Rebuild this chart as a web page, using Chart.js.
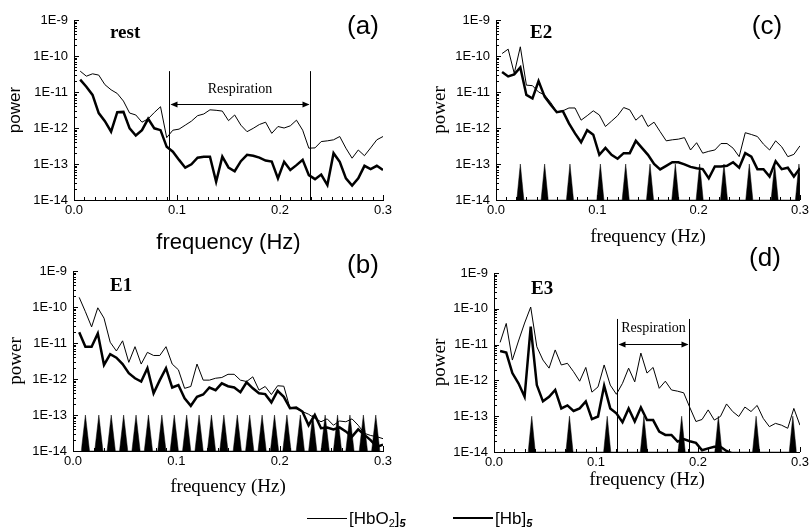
<!DOCTYPE html>
<html>
<head>
<meta charset="utf-8">
<script src="https://cdn.jsdelivr.net/npm/chart.js@4.4.1/dist/chart.umd.min.js"></script>
<style>
  html, body { margin: 0; padding: 0; background: #fff; }
  #fig { position: relative; width: 812px; height: 532px; overflow: hidden; }
  #fig canvas { position: absolute; }
  .lbl { position: absolute; color: #000; white-space: nowrap; line-height: 1; }
  .panel { font-family: 'Liberation Sans', Arial, sans-serif; font-size: 26px; transform: translate(-50%, -50%); }
  .cond { font-family: 'Liberation Serif', 'Times New Roman', serif; font-weight: bold; font-size: 19px; transform: translateY(-50%); }
  .legend { font-family: 'Liberation Sans', Arial, sans-serif; font-size: 17px; transform: translateY(-50%); }
  .legend sub { font-size: 0.65em; vertical-align: -0.35em; line-height: 0; }
  .legend sub.n { font-style: italic; font-weight: bold; }
  .key { position: absolute; height: 0; border-top: 1px solid #000; }
</style>
</head>
<body>
<div id="fig">
  <canvas id="pa"></canvas>
  <canvas id="pc"></canvas>
  <canvas id="pb"></canvas>
  <canvas id="pd"></canvas>

  <div class="lbl panel" style="left:363px;top:25px">(a)</div>
  <div class="lbl panel" style="left:767px;top:25px">(c)</div>
  <div class="lbl panel" style="left:363px;top:264px">(b)</div>
  <div class="lbl panel" style="left:765px;top:257px">(d)</div>

  <div class="lbl cond" style="left:110px;top:31px">rest</div>
  <div class="lbl cond" style="left:530px;top:31px">E2</div>
  <div class="lbl cond" style="left:110px;top:284px">E1</div>
  <div class="lbl cond" style="left:531px;top:287px">E3</div>

  <div class="key" style="left:307px;top:518px;width:40px;border-top-width:1px"></div>
  <div class="lbl legend" style="left:349px;top:518px">[HbO<sub>2</sub>]<sub class="n">5</sub></div>
  <div class="key" style="left:453px;top:517px;width:40px;border-top-width:2.5px"></div>
  <div class="lbl legend" style="left:495px;top:518px">[Hb]<sub class="n">5</sub></div>
</div>

<script>
// frequency grid (Hz) shared by all spectra
const freq = [0.006, 0.012, 0.018, 0.024, 0.030, 0.036, 0.042, 0.048, 0.054, 0.060,
  0.066, 0.072, 0.078, 0.084, 0.090, 0.096, 0.102, 0.108, 0.114, 0.120,
  0.126, 0.132, 0.138, 0.144, 0.150, 0.156, 0.162, 0.168, 0.174, 0.180,
  0.186, 0.192, 0.198, 0.204, 0.210, 0.216, 0.222, 0.228, 0.234, 0.240,
  0.246, 0.252, 0.258, 0.264, 0.270, 0.276, 0.282, 0.288, 0.294, 0.300];

const yTicks = [1e-14, 1e-13, 1e-12, 1e-11, 1e-10, 1e-9];
const xTicks = [0, 0.1, 0.2, 0.3];

// stimulus peaks drawn as black spikes up to 1E-13
const spikeTop = 1e-13;
const spikesE1 = [0.012, 0.025, 0.037, 0.049, 0.061, 0.073, 0.086, 0.098, 0.110, 0.122, 0.134, 0.146,
  0.159, 0.171, 0.183, 0.195, 0.207, 0.220, 0.232, 0.244, 0.256, 0.268, 0.281, 0.293];
const spikesE2 = [0.024, 0.048, 0.073, 0.103, 0.128, 0.152, 0.177, 0.201, 0.225, 0.250, 0.275, 0.299];
const spikesE3 = [0.037, 0.074, 0.111, 0.147, 0.184, 0.220, 0.257, 0.293];

// (a) rest
const hbo2Rest = [3.8e-11, 2.75e-11, 3.2e-11, 2.95e-11, 1.6e-11, 1.15e-11, 9.1e-12, 5.6e-12, 2.6e-12, 2.3e-12,
  1.45e-12, 1.8e-12, 2.7e-12, 3.9e-12, 5.4e-13, 8.7e-13, 9.3e-13, 1.2e-12, 1.55e-12, 2.2e-12,
  2.45e-12, 3.2e-12, 3.1e-12, 2.95e-12, 1.6e-12, 2.3e-12, 1.2e-12, 7.9e-13, 9.8e-13, 1.25e-12,
  1.45e-12, 7.1e-13, 1.1e-12, 1.0e-12, 1.15e-12, 1.65e-12, 8.7e-13, 2.75e-13, 2.8e-13, 4.2e-13,
  4.4e-13, 4.7e-13, 5.8e-13, 2.75e-13, 1.45e-13, 2.45e-13, 1.7e-13, 2.8e-13, 4.7e-13, 5.8e-13];
const hbRest = [2.2e-11, 1.4e-11, 8.3e-12, 2.6e-12, 1.55e-12, 7.9e-13, 2.75e-12, 2.8e-12, 9.8e-13, 6.2e-13,
  8.7e-13, 1.8e-12, 9.8e-13, 8.7e-13, 3.0e-13, 2.2e-13, 1.3e-13, 7.9e-14, 9.8e-14, 1.5e-13,
  1.6e-13, 1.6e-13, 3.2e-14, 1.6e-13, 8.0e-14, 6.3e-14, 1.2e-13, 1.8e-13, 1.7e-13, 1.5e-13,
  1.25e-13, 1.17e-13, 4.0e-14, 1.15e-13, 6.8e-14, 9.3e-14, 1.3e-13, 4.9e-14, 3.8e-14, 5.1e-14,
  2.6e-14, 2.0e-13, 1.15e-13, 4.0e-14, 2.5e-14, 4.0e-14, 8.9e-14, 7.2e-14, 8.9e-14, 6.8e-14];

// (b) E1
const hbo2E1 = [1.85e-10, 7.4e-11, 2.8e-11, 9.5e-11, 4.9e-11, 1.05e-11, 6.0e-12, 1.15e-11, 2.9e-12, 7.9e-12,
  2.6e-12, 5.5e-12, 4.5e-12, 4.5e-12, 7.9e-12, 2.6e-12, 1.8e-12, 5.5e-13, 6.2e-13, 2.6e-12,
  9.3e-13, 9.3e-13, 1.05e-12, 1.1e-12, 1.35e-12, 1.35e-12, 9.3e-13, 8.5e-13, 1.15e-12, 4.9e-13,
  6.2e-13, 3.7e-13, 6.5e-13, 6.3e-13, 1.55e-13, 1.5e-13, 1.25e-13, 1.05e-13, 8.1e-14, 6.5e-14,
  7.8e-14, 5.2e-14, 6.8e-14, 6.5e-14, 7.8e-14, 5.2e-14, 3.1e-14, 2.7e-14, 2.5e-14, 2.2e-14];
const hbE1 = [2.0e-11, 7.9e-12, 7.9e-12, 1.85e-11, 2.45e-12, 4.9e-12, 3.9e-12, 2.6e-12, 1.45e-12, 1.05e-12,
  8.5e-13, 2.0e-12, 4.0e-13, 9.3e-13, 2.0e-12, 5.8e-13, 6.8e-13, 2.9e-13, 1.8e-13, 3.2e-13,
  3.7e-13, 5.8e-13, 4.9e-13, 7.6e-13, 6.3e-13, 5.8e-13, 4.3e-13, 8.1e-13, 5.5e-13, 4.0e-13,
  3.8e-13, 2.25e-13, 4.7e-13, 3.2e-13, 1.55e-13, 1.6e-13, 1.25e-13, 5.2e-14, 1.0e-13, 4.3e-14,
  4.5e-14, 4.0e-14, 4.5e-14, 3.5e-14, 2.5e-14, 4.0e-14, 2.8e-14, 2.0e-14, 1.3e-14, 1.5e-14];

// (c) E2
const hbo2E2 = [1.17e-10, 1.55e-10, 3.3e-11, 1.8e-10, 1.55e-11, 1.5e-11, 1.0e-11, 8.3e-12, 5.1e-12, 2.8e-12,
  3.0e-12, 3.6e-12, 3.6e-12, 1.65e-12, 2.2e-12, 3.0e-12, 2.3e-12, 1.1e-12, 1.55e-12, 2.2e-12,
  3.7e-12, 3.2e-12, 1.65e-12, 2.3e-12, 1.1e-12, 1.45e-12, 7.9e-13, 4.4e-13, 4.7e-13, 4.9e-13,
  5.4e-13, 2.45e-13, 3.9e-13, 2.0e-13, 2.25e-13, 2.45e-13, 3.7e-13, 3.7e-13, 2.75e-13, 1.6e-13,
  7.4e-13, 6.6e-13, 5.8e-13, 3.55e-13, 2.45e-13, 4.4e-13, 3.0e-13, 1.6e-13, 1.85e-13, 3.2e-13];
const hbE2 = [3.6e-11, 2.7e-11, 3.1e-11, 4.8e-11, 8.3e-12, 6.6e-12, 2.0e-11, 7.4e-12, 4.4e-12, 2.75e-12,
  2.95e-12, 1.35e-12, 7.1e-13, 4.0e-13, 8.7e-13, 6.5e-13, 1.8e-13, 2.8e-13, 1.8e-13, 1.4e-13,
  2.0e-13, 2.0e-13, 4.4e-13, 2.8e-13, 1.8e-13, 1.0e-13, 7.1e-14, 8.9e-14, 1.12e-13, 1.12e-13,
  9.8e-14, 8.3e-14, 7.6e-14, 7.2e-14, 4.0e-14, 8.5e-14, 8.5e-14, 8.9e-14, 1.12e-13, 7.9e-14,
  2.0e-13, 1.6e-13, 7.2e-14, 7.2e-14, 4.5e-14, 1.2e-13, 7.2e-14, 7.9e-14, 4.5e-14, 7.6e-14];

// (d) E3
const hbo2E3 = [1.15e-11, 3.9e-11, 3.7e-12, 1.26e-11, 4.0e-11, 1.12e-10, 8.7e-12, 3.7e-12, 2.2e-12, 7.1e-12,
  2.7e-12, 3.0e-12, 1.75e-12, 9.5e-13, 2.3e-12, 4.7e-13, 6.6e-13, 2.7e-12, 7.4e-13, 4.1e-13,
  8.3e-13, 2.2e-12, 9.1e-13, 5.8e-12, 1.6e-12, 2.3e-12, 6.0e-13, 9.5e-13, 5.4e-13, 5.0e-13,
  4.5e-13, 1.75e-13, 7.1e-14, 8.1e-14, 1.5e-13, 7.8e-14, 9.8e-14, 2.2e-13, 1.35e-13, 9.8e-14,
  1.8e-13, 1.35e-13, 2.0e-13, 8.7e-14, 5.1e-14, 6.3e-14, 5.6e-14, 4.6e-14, 1.65e-13, 5.6e-14];
const hbE3 = [6.6e-12, 6.0e-12, 1.6e-12, 8.3e-13, 3.5e-13, 3.2e-11, 7.4e-13, 2.6e-13, 3.5e-13, 5.4e-13,
  1.65e-13, 2.0e-13, 1.4e-13, 1.65e-13, 2.6e-13, 8.3e-14, 9.8e-14, 7.1e-13, 1.65e-13, 1.2e-13,
  6.8e-14, 1.65e-13, 7.1e-14, 1.75e-13, 7.8e-14, 7.8e-14, 3.7e-14, 3.0e-14, 3.0e-14, 1.95e-14,
  2.3e-14, 2.0e-14, 1.8e-14, 1.12e-14, 1.26e-14, 1.4e-14, 1.4e-14, 1.07e-14, 9e-15, null,
  null, null, null, null, null, null, null, null, null, null];

const SANS = "'Liberation Sans', Arial, sans-serif";
const SERIF = "'Liberation Serif', 'Times New Roman', serif";

function series(values) {
  return freq.map((f, i) => ({ x: f, y: values[i] }));
}

function spikeData(list, hw) {
  const pts = [];
  list.forEach(f => {
    pts.push({ x: f - hw, y: yTicks[0] }, { x: f, y: spikeTop }, { x: f + hw, y: yTicks[0] });
  });
  return pts;
}

function lineSet(values, width) {
  return { data: series(values), borderColor: '#000', borderWidth: width, pointRadius: 0, tension: 0, fill: false };
}

// small inward ticks like the original axes
const inTicks = {
  id: 'inTicks',
  afterDraw(chart) {
    const { ctx, chartArea: a, scales: { x, y } } = chart;
    ctx.save();
    ctx.strokeStyle = '#000';
    ctx.lineWidth = 1;
    ctx.beginPath();
    for (let i = 0; i < yTicks.length; i++) {
      const steps = i < yTicks.length - 1 ? 9 : 1;
      for (let m = 1; m <= steps; m++) {
        const py = Math.round(y.getPixelForValue(yTicks[i] * m)) + 0.5;
        const len = m === 1 ? 5 : 3;
        ctx.moveTo(a.left, py);
        ctx.lineTo(a.left + len, py);
      }
    }
    for (let i = 0; i <= 30; i++) {
      const px = Math.round(x.getPixelForValue(i / 100)) + 0.5;
      const len = i % 10 === 0 ? 5 : 3;
      ctx.moveTo(px, a.bottom);
      ctx.lineTo(px, a.bottom - len);
    }
    ctx.stroke();
    ctx.restore();
  }
};

// respiration band: two vertical lines with a double arrow and a label
const respiration = {
  id: 'respiration',
  afterDatasetsDraw(chart, args, opts) {
    if (opts.from === undefined) return;
    const { ctx, scales: { x, y } } = chart;
    const x1 = Math.round(x.getPixelForValue(opts.from)) + 0.5;
    const x2 = Math.round(x.getPixelForValue(opts.to)) + 0.5;
    const yTop = y.getPixelForValue(opts.top);
    const yBot = y.getPixelForValue(yTicks[0]);
    const yArr = Math.round(y.getPixelForValue(opts.arrow)) + 0.5;
    ctx.save();
    ctx.strokeStyle = '#000';
    ctx.fillStyle = '#000';
    ctx.lineWidth = 1;
    ctx.beginPath();
    ctx.moveTo(x1, yTop); ctx.lineTo(x1, yBot);
    ctx.moveTo(x2, yTop); ctx.lineTo(x2, yBot);
    ctx.moveTo(x1 + 2, yArr); ctx.lineTo(x2 - 2, yArr);
    ctx.stroke();
    ctx.beginPath();
    ctx.moveTo(x1 + 1, yArr); ctx.lineTo(x1 + 8, yArr - 3); ctx.lineTo(x1 + 8, yArr + 3); ctx.closePath();
    ctx.moveTo(x2 - 1, yArr); ctx.lineTo(x2 - 8, yArr - 3); ctx.lineTo(x2 - 8, yArr + 3); ctx.closePath();
    ctx.fill();
    ctx.font = '14px ' + SERIF;
    ctx.textAlign = 'center';
    ctx.textBaseline = 'middle';
    ctx.fillText('Respiration', (x1 + x2) / 2, y.getPixelForValue(opts.label));
    ctx.restore();
  }
};

function makePanel(id, p) {
  const cv = document.getElementById(id);
  cv.width = p.box.w;
  cv.height = p.box.h;
  cv.style.left = p.box.left + 'px';
  cv.style.top = p.box.top + 'px';

  const fam = p.serif ? SERIF : SANS;
  const datasets = [lineSet(p.hbo2, 1), lineSet(p.hb, 2.5)];
  if (p.spikes) {
    datasets.push({
      data: spikeData(p.spikes, p.hw), borderColor: '#000', borderWidth: 0.5,
      backgroundColor: '#000', fill: 'start', pointRadius: 0, tension: 0
    });
  }

  return new Chart(cv, {
    type: 'line',
    data: { datasets },
    options: {
      responsive: false,
      animation: false,
      devicePixelRatio: 1,
      layout: {
        padding: { left: 0, top: p.area.t - p.box.top, right: p.box.left + p.box.w - p.area.r, bottom: 0 }
      },
      plugins: {
        legend: { display: false },
        tooltip: { enabled: false },
        respiration: p.resp || false
      },
      scales: {
        x: {
          type: 'linear', min: 0, max: 0.3,
          afterBuildTicks: s => { s.ticks = xTicks.map(v => ({ value: v })); },
          afterFit: s => { s.height = p.box.top + p.box.h - p.area.b; },
          ticks: { callback: v => v.toFixed(1), color: '#000', font: { family: SANS, size: 13 }, padding: 3, maxRotation: 0, autoSkip: false },
          grid: { display: false, drawTicks: false },
          border: { display: true, color: '#000', width: 1 },
          title: {
            display: true, text: 'frequency (Hz)', color: '#000',
            font: { family: fam, size: p.xTitle.size },
            padding: { top: 0, bottom: p.box.top + p.box.h - p.xTitle.y - p.xTitle.size * 0.6 }
          }
        },
        y: {
          type: 'logarithmic', min: yTicks[0], max: yTicks[yTicks.length - 1],
          afterBuildTicks: s => { s.ticks = yTicks.map(v => ({ value: v })); },
          afterFit: s => { s.width = p.area.l - p.box.left; },
          ticks: { callback: v => '1E' + Math.round(Math.log10(v)), color: '#000', font: { family: SANS, size: 13 }, padding: 6, autoSkip: false },
          grid: { display: false, drawTicks: false },
          border: { display: true, color: '#000', width: 1 },
          title: {
            display: true, text: 'power', color: '#000',
            font: { family: fam, size: p.yTitle.size },
            padding: { top: p.yTitle.x - p.box.left - p.yTitle.size * 0.6, bottom: 0 }
          }
        }
      }
    },
    plugins: [inTicks, respiration]
  });
}

makePanel('pa', {
  box: { left: 0, top: 0, w: 406, h: 262 }, area: { l: 74, r: 383, t: 20, b: 200 },
  serif: false, yTitle: { x: 15, size: 17 }, xTitle: { y: 243, size: 22 },
  hbo2: hbo2Rest, hb: hbRest,
  resp: { from: 0.0925, to: 0.229, top: 3.8e-11, arrow: 4.7e-12, label: 1.2e-11 }
});

makePanel('pc', {
  box: { left: 406, top: 0, w: 406, h: 262 }, area: { l: 496, r: 803, t: 20, b: 200 },
  serif: true, yTitle: { x: 440, size: 19 }, xTitle: { y: 237, size: 19 },
  hbo2: hbo2E2, hb: hbE2, spikes: spikesE2, hw: 0.0035
});

makePanel('pb', {
  box: { left: 0, top: 250, w: 406, h: 262 }, area: { l: 73, r: 383, t: 271, b: 451 },
  serif: true, yTitle: { x: 16, size: 19 }, xTitle: { y: 487, size: 19 },
  hbo2: hbo2E1, hb: hbE1, spikes: spikesE1, hw: 0.004
});

makePanel('pd', {
  box: { left: 406, top: 250, w: 406, h: 262 }, area: { l: 494, r: 802, t: 273, b: 452 },
  serif: true, yTitle: { x: 440, size: 19 }, xTitle: { y: 480, size: 19 },
  hbo2: hbo2E3, hb: hbE3, spikes: spikesE3, hw: 0.0035,
  resp: { from: 0.1208, to: 0.1909, top: 5.2e-11, arrow: 1.05e-11, label: 2.9e-11 }
});
</script>
</body>
</html>
